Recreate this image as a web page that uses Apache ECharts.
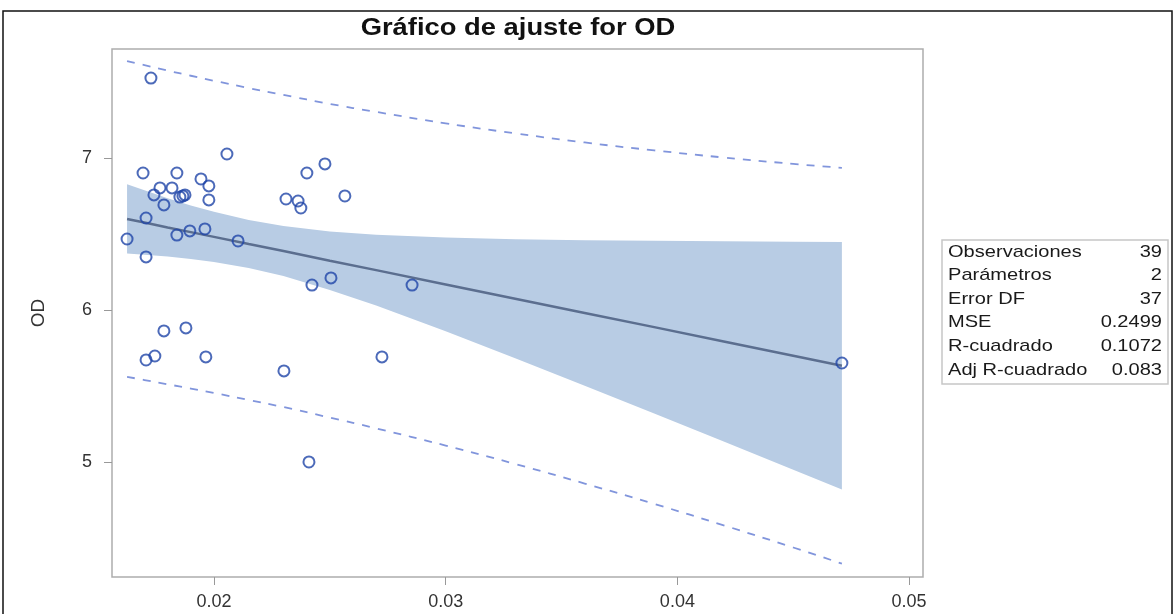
<!DOCTYPE html>
<html>
<head>
<meta charset="utf-8">
<title>Gráfico de ajuste for OD</title>
<script src="https://cdn.jsdelivr.net/npm/echarts@6/dist/echarts.min.js"></script>
<style>
  html, body { margin: 0; padding: 0; background: #fff; }
  #chart { width: 1175px; height: 614px; }
</style>
</head>
<body>
<div id="chart"></div>
<script>
// observed points (x, OD)
var obsX = [0.01728, 0.02056, 0.01694, 0.01840, 0.01944, 0.01978, 0.01767, 0.01819, 0.01741, 0.01875,
  0.01853, 0.01866, 0.01978, 0.01784, 0.02311, 0.02363, 0.02375, 0.02401, 0.02479, 0.02565,
  0.01707, 0.01625, 0.01840, 0.01896, 0.01961, 0.02104, 0.01707, 0.02423, 0.02505, 0.01784,
  0.01879, 0.01707, 0.01745, 0.01965, 0.02302, 0.02410, 0.02855, 0.02725, 0.04710];
var obsY = [7.526, 7.026, 6.901, 6.901, 6.862, 6.816, 6.803, 6.803, 6.757, 6.757,
  6.743, 6.750, 6.724, 6.691, 6.730, 6.717, 6.671, 6.901, 6.961, 6.750,
  6.605, 6.467, 6.493, 6.520, 6.533, 6.454, 6.349, 6.164, 6.211, 5.862,
  5.882, 5.671, 5.697, 5.691, 5.599, 5.000, 6.164, 5.691, 5.651];

// fit line and bands, read along x
var bandX     = [0.01625, 0.017, 0.018, 0.019, 0.020, 0.0215, 0.023, 0.025, 0.027, 0.030, 0.033, 0.036, 0.039, 0.042, 0.045, 0.0471];
var fitY      = [6.599, 6.575, 6.543, 6.512, 6.481, 6.434, 6.388, 6.324, 6.262, 6.168, 6.074, 5.980, 5.887, 5.793, 5.699, 5.633];
var confUpper = [6.827, 6.787, 6.735, 6.688, 6.646, 6.592, 6.553, 6.516, 6.495, 6.477, 6.466, 6.459, 6.455, 6.452, 6.449, 6.447];
var confLower = [6.371, 6.363, 6.351, 6.336, 6.316, 6.276, 6.223, 6.132, 6.029, 5.860, 5.682, 5.501, 5.318, 5.134, 4.949, 4.819];
var predUpper = [7.638, 7.611, 7.575, 7.541, 7.508, 7.460, 7.415, 7.356, 7.303, 7.228, 7.162, 7.102, 7.050, 7.003, 6.961, 6.935];
var predLower = [5.560, 5.539, 5.511, 5.483, 5.454, 5.408, 5.361, 5.292, 5.221, 5.108, 4.987, 4.858, 4.724, 4.583, 4.437, 4.331];

var xTicks = [0.02, 0.03, 0.04, 0.05];
var yTicks = [5, 6, 7];

var statLabels = ['Observaciones', 'Parámetros', 'Error DF', 'MSE', 'R-cuadrado', 'Adj R-cuadrado'];
var statValues = ['39', '2', '37', '0.2499', '0.1072', '0.083'];

var FONT = '"Liberation Sans", Arial, sans-serif';

function pairs(xs, ys) {
  return xs.map(function (x, i) { return [x, ys[i]]; });
}

var chart = echarts.init(document.getElementById('chart'));

// stats table box
var tableX = 942, tableY = 240, rowH = 23.6;
var tableItems = [{
  type: 'rect',
  shape: { x: tableX, y: tableY, width: 226, height: 144 },
  style: { fill: '#fff', stroke: '#c6c6c6', lineWidth: 1.5 }
}];
statLabels.forEach(function (lab, i) {
  tableItems.push({
    type: 'text', x: tableX + 6, y: tableY + 12 + i * rowH, scaleX: 1.18,
    style: { text: lab, fill: '#1a1a1a', font: '17px ' + FONT, verticalAlign: 'middle' }
  });
  tableItems.push({
    type: 'text', x: tableX + 220, y: tableY + 12 + i * rowH, scaleX: 1.18,
    style: { text: statValues[i], fill: '#1a1a1a', font: '17px ' + FONT, align: 'right', verticalAlign: 'middle' }
  });
});

// confidence band polygon through the axes
function renderBand(params, api) {
  var pts = [];
  for (var i = 0; i < bandX.length; i++) pts.push(api.coord([bandX[i], confUpper[i]]));
  for (var j = bandX.length - 1; j >= 0; j--) pts.push(api.coord([bandX[j], confLower[j]]));
  return {
    type: 'polygon',
    shape: { points: pts, smooth: 0 },
    style: { fill: '#b8cce4' }
  };
}

var option = {
  animation: false,
  backgroundColor: '#fff',
  grid: {
    left: 112, top: 49, width: 811, height: 528,
    show: true, borderColor: '#adadad', borderWidth: 1.5, backgroundColor: '#fff'
  },
  xAxis: {
    type: 'value',
    min: 0.0156, max: 0.0506,
    axisLine: { show: false },
    splitLine: { show: false },
    axisTick: { show: true, length: 8, customValues: xTicks, lineStyle: { color: '#999' } },
    axisLabel: {
      customValues: xTicks, margin: 16,
      fontSize: 18, color: '#333', fontFamily: FONT,
      formatter: function (v) { return v.toFixed(2); }
    }
  },
  yAxis: {
    type: 'value',
    min: 4.243, max: 7.717,
    name: 'OD', nameLocation: 'middle', nameGap: 64,
    nameTextStyle: { fontSize: 19, color: '#333', fontFamily: FONT },
    axisLine: { show: false },
    splitLine: { show: false },
    axisTick: { show: true, length: 8, customValues: yTicks, lineStyle: { color: '#999' } },
    axisLabel: {
      customValues: yTicks, margin: 20,
      fontSize: 18, color: '#333', fontFamily: FONT
    }
  },
  graphic: [
    {
      type: 'rect',
      shape: { x: 3, y: 11, width: 1169, height: 620 },
      style: { fill: 'none', stroke: '#111', lineWidth: 1.5 },
      silent: true
    },
    {
      type: 'text', x: 518, y: 28, scaleX: 1.14, originX: 0, originY: 0,
      style: { text: 'Gráfico de ajuste for OD', fill: '#111', font: 'bold 24px ' + FONT, align: 'center', verticalAlign: 'middle' }
    },
    { type: 'group', children: tableItems }
  ],
  series: [
    {
      name: 'confBand', type: 'custom',
      renderItem: renderBand,
      data: [[bandX[0], confLower[0]]],
      clip: true, silent: true, z: 1
    },
    {
      name: 'predUpper', type: 'line', data: pairs(bandX, predUpper), smooth: true,
      symbol: 'none', lineStyle: { color: '#8195dc', width: 1.8, type: [8, 8] }, z: 2
    },
    {
      name: 'predLower', type: 'line', data: pairs(bandX, predLower), smooth: true,
      symbol: 'none', lineStyle: { color: '#8195dc', width: 1.8, type: [8, 8] }, z: 2
    },
    {
      name: 'fit', type: 'line', data: pairs(bandX, fitY),
      symbol: 'none', lineStyle: { color: '#5b6e8f', width: 2.5 }, z: 3
    },
    {
      name: 'obs', type: 'scatter', data: pairs(obsX, obsY),
      symbol: 'circle', symbolSize: 11,
      itemStyle: { color: 'rgba(0,0,0,0)', borderColor: '#1f45a8', borderWidth: 2 },
      z: 4
    }
  ]
};

chart.setOption(option);
</script>
</body>
</html>
